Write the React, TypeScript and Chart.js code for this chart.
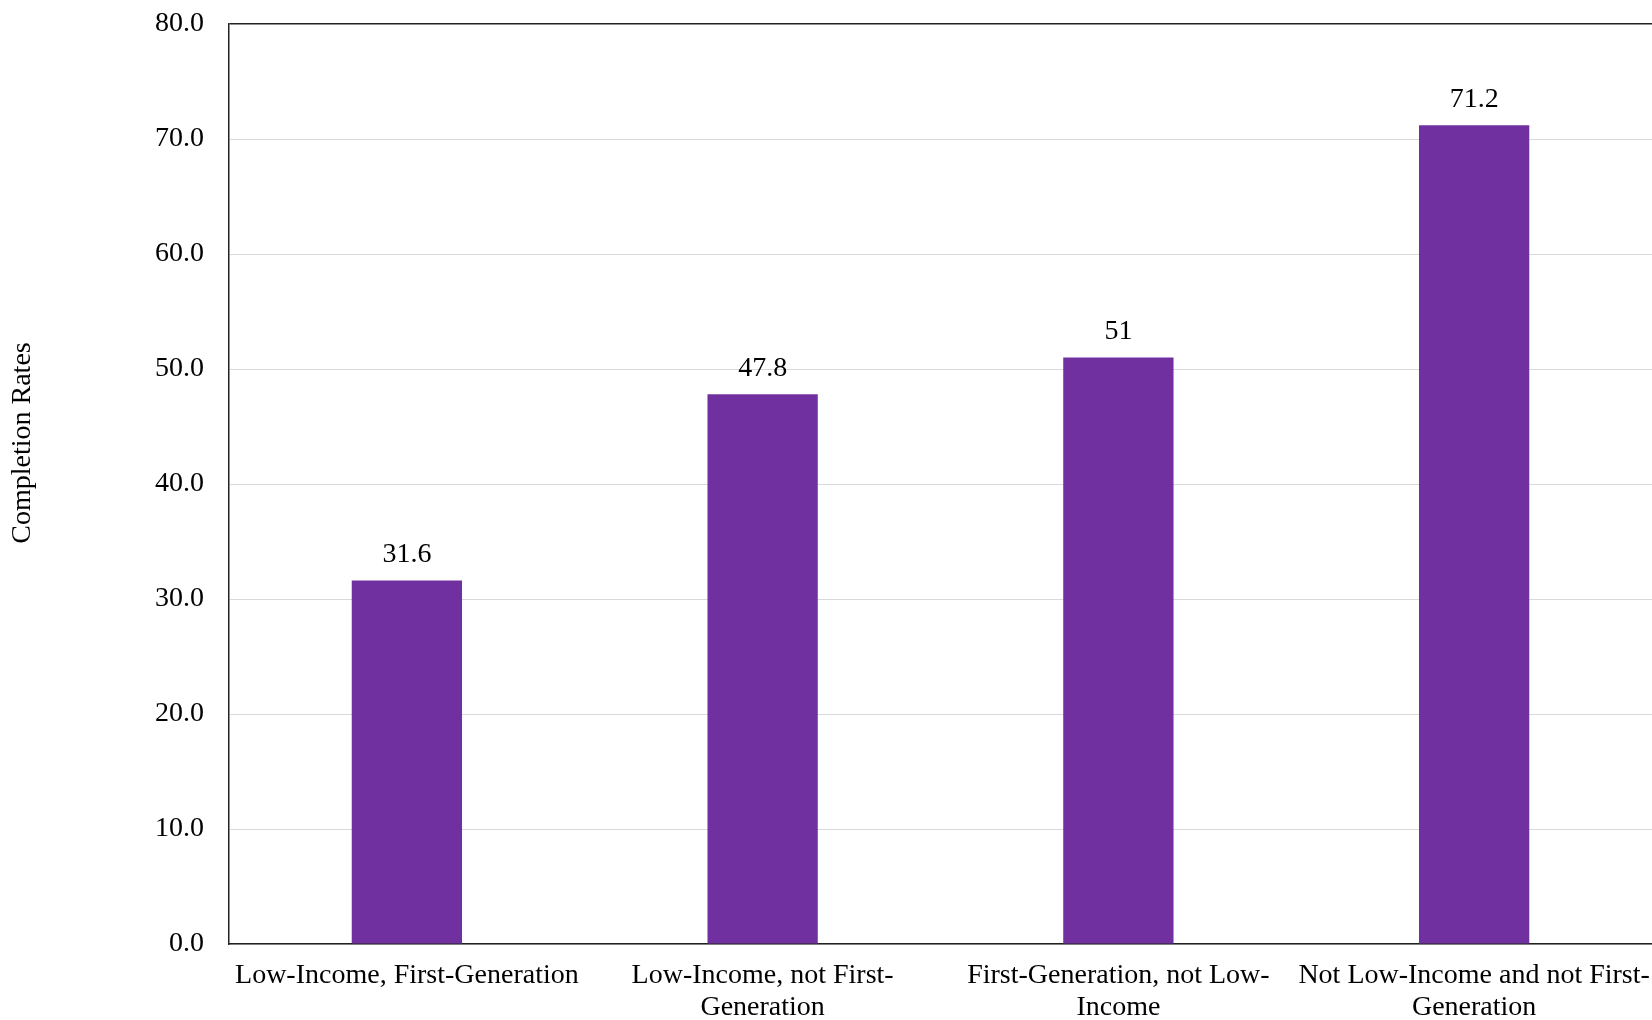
import React, { useEffect, useRef } from "react";
import { Chart, registerables } from "chart.js";

Chart.register(...registerables);

const categories: (string | string[])[] = [
  "Low-Income, First-Generation",
  ["Low-Income, not First-", "Generation"],
  ["First-Generation, not Low-", "Income"],
  ["Not Low-Income and not First-", "Generation"],
];
const completionRates = [31.6, 47.8, 51, 71.2];
const yAxisTitle = "Completion Rates";
const yMin = 0;
const yMax = 80;
const yStep = 10;

const FONT = '"Liberation Serif", "Times New Roman", serif';
const FS = 28;

const valueLabelPlugin = {
  id: "valueLabels",
  afterDatasetsDraw(chart: any) {
    const ctx = chart.ctx;
    const meta = chart.getDatasetMeta(0);
    ctx.save();
    ctx.font = `${FS}px ${FONT}`;
    ctx.fillStyle = "#000";
    ctx.textAlign = "center";
    ctx.textBaseline = "middle";
    meta.data.forEach((el: any, i: number) => {
      ctx.fillText(String(completionRates[i]), el.x, el.y - 26);
    });
    ctx.restore();
  },
};

const axisTitlePlugin = {
  id: "axisTitle",
  afterDraw(chart: any) {
    const ctx = chart.ctx;
    ctx.save();
    ctx.font = `${FS}px ${FONT}`;
    ctx.fillStyle = "#000";
    ctx.textAlign = "center";
    ctx.textBaseline = "middle";
    ctx.translate(23, 443);
    ctx.rotate(-Math.PI / 2);
    ctx.fillText(yAxisTitle, 0, 0);
    ctx.restore();
  },
};

export default function App() {
  const ref = useRef<HTMLCanvasElement | null>(null);
  useEffect(() => {
    if (!ref.current) return;
    const chart = new Chart(ref.current, {
      type: "bar",
      data: {
        labels: categories,
        datasets: [
          {
            data: completionRates,
            backgroundColor: "#7030A0",
            barPercentage: 0.31,
            categoryPercentage: 1,
          },
        ],
      },
      options: {
        animation: false,
        responsive: false,
        maintainAspectRatio: false,
        layout: { padding: { top: 24, right: 0, left: 0, bottom: 0 } },
        plugins: {
          legend: { display: false },
          tooltip: { enabled: false },
        },
        scales: {
          x: {
            grid: { display: false, drawTicks: false },
            border: { display: true, color: "#222", width: 1.5 },
            ticks: {
              color: "#000",
              font: { family: FONT, size: FS, lineHeight: 1.13 },
              padding: 16,
              maxRotation: 0,
              autoSkip: false,
            },
            afterFit: (s: any) => {
              s.height = 76;
              s.paddingLeft = 0;
              s.paddingRight = 0;
            },
          },
          y: {
            min: yMin,
            max: yMax,
            grid: {
              drawTicks: false,
              color: (c: any) => (c.tick && c.tick.value === yMax ? "#222" : "#d9d9d9"),
              lineWidth: (c: any) => (c.tick && c.tick.value === yMax ? 1.5 : 1),
            },
            border: { display: true, color: "#222", width: 1.5 },
            ticks: {
              stepSize: yStep,
              color: "#000",
              font: { family: FONT, size: FS },
              padding: 25,
              callback: (v: any) => Number(v).toFixed(1),
            },
            afterFit: (s: any) => {
              s.width = 229;
              s.paddingTop = 0;
              s.paddingBottom = 0;
            },
          },
        },
      },
      plugins: [valueLabelPlugin, axisTitlePlugin],
    });
    return () => chart.destroy();
  }, []);
  return (
    <div style={{ position: "fixed", left: 0, top: 0, width: 1652, height: 1020, background: "#fff" }}>
      <canvas ref={ref} width={1652} height={1020} style={{ width: 1652, height: 1020 }} />
    </div>
  );
}
